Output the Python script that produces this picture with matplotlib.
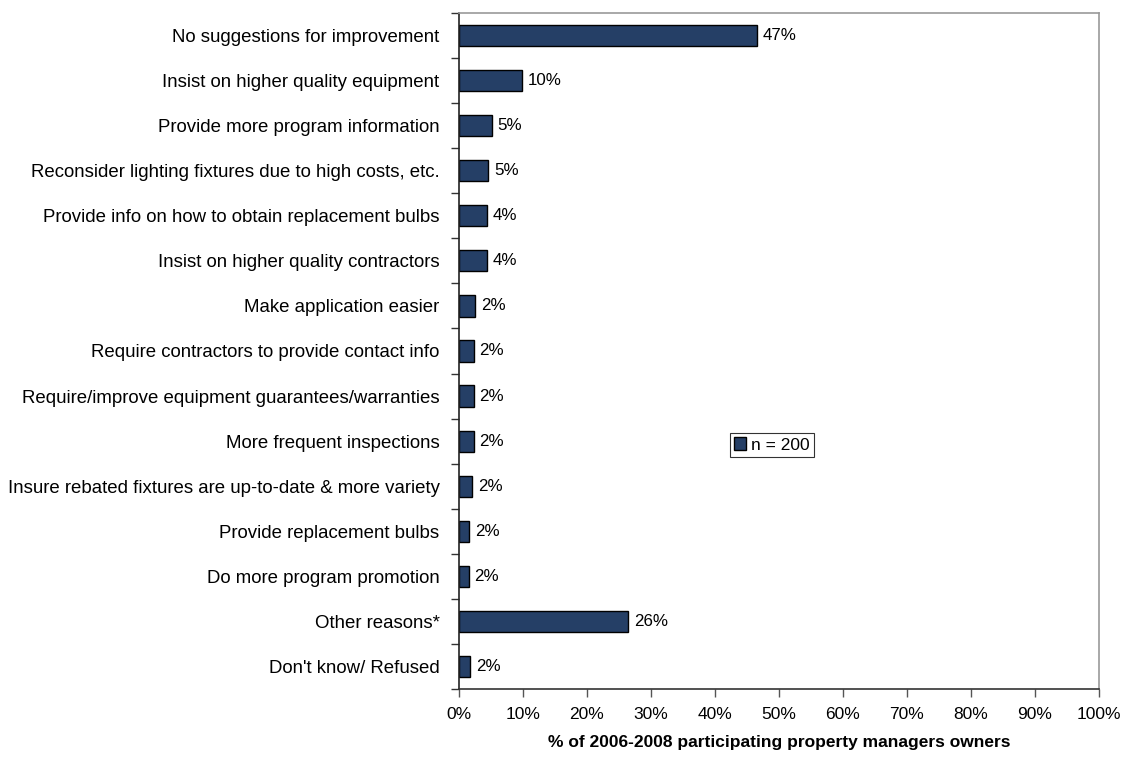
import matplotlib.pyplot as plt
import numpy as np

plt.rcParams['font.family'] = ['Liberation Sans', 'DejaVu Sans']

categories = [
    "No suggestions for improvement",
    "Insist on higher quality equipment",
    "Provide more program information",
    "Reconsider lighting fixtures due to high costs, etc.",
    "Provide info on how to obtain replacement bulbs",
    "Insist on higher quality contractors",
    "Make application easier",
    "Require contractors to provide contact info",
    "Require/improve equipment guarantees/warranties",
    "More frequent inspections",
    "Insure rebated fixtures are up-to-date & more variety",
    "Provide replacement bulbs",
    "Do more program promotion",
    "Other reasons*",
    "Don't know/ Refused",
]
values = [46.5, 9.8, 5.1, 4.6, 4.4, 4.4, 2.5, 2.3, 2.3, 2.3, 2.1, 1.6, 1.5, 26.4, 1.7]
labels = ["47%", "10%", "5%", "5%", "4%", "4%", "2%", "2%", "2%", "2%", "2%", "2%", "2%", "26%", "2%"]
xticks = list(range(0, 101, 10))

fs = 12.5
fig = plt.figure(figsize=(11.24, 7.57), dpi=100)
ax = fig.add_axes([459 / 1124, 68 / 757, 640 / 1124, 676 / 757])

y = np.arange(len(categories))
ax.barh(y, values, height=0.47, color='#253F66', edgecolor='black',
        linewidth=1.0, label='n = 200')
for yi, v, lab in zip(y, values, labels):
    ax.text(v + 0.9, yi, lab, va='center', ha='left', fontsize=12.2)

ax.set_ylim(len(categories) - 0.5, -0.5)
ax.set_xlim(0, 100)
ax.set_yticks(y)
ax.set_yticklabels(categories, fontsize=13.4)
ax.tick_params(axis='y', which='major', length=0, pad=14)
ax.set_yticks(np.arange(-0.5, len(categories), 1), minor=True)
ax.tick_params(axis='y', which='minor', length=6, width=1, color='#333333')
ax.set_xticks(xticks)
ax.set_xticklabels([f"{t}%" for t in xticks], fontsize=fs)
ax.tick_params(axis='x', length=6, width=1, color='#555555', pad=7)

ax.spines['left'].set_color('#222222')
ax.spines['bottom'].set_color('#333333')
ax.spines['top'].set_color('#999999')
ax.spines['right'].set_color('#999999')
for s in ax.spines.values():
    s.set_linewidth(1.2)

ax.set_xlabel("% of 2006-2008 participating property managers owners",
              fontsize=fs, fontweight='bold', labelpad=9)

leg = ax.legend(loc='center', bbox_to_anchor=(0.489, 0.361), fontsize=fs,
                frameon=True, fancybox=False, handlelength=0.7, handleheight=0.7,
                handletextpad=0.3, borderpad=0.25, borderaxespad=0)
leg.get_frame().set_edgecolor('black')
leg.get_frame().set_linewidth(0.8)

fig.savefig('out.png', dpi=100)
